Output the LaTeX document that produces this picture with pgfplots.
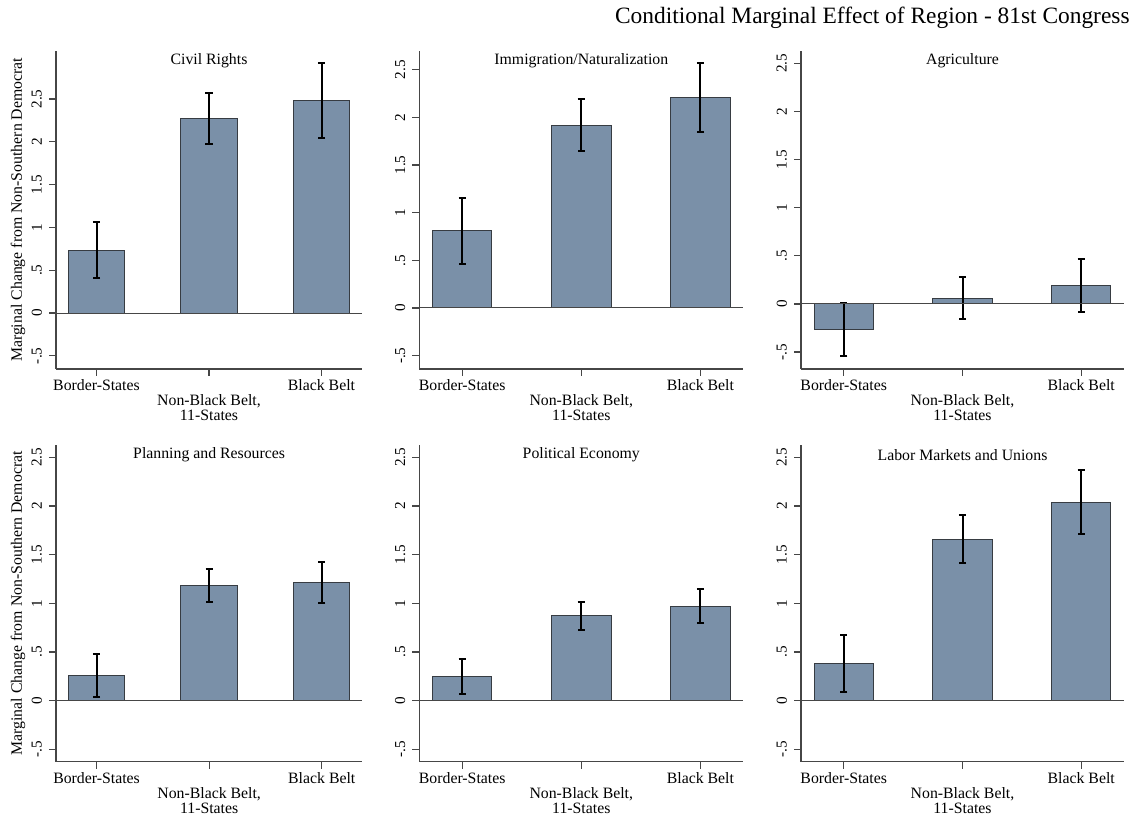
\documentclass[border=0pt]{standalone}
\usepackage{fontspec}
\setmainfont{Liberation Serif}
\usepackage{pgfplots}
\usepackage{pgfplotstable}
\pgfplotsset{compat=1.18}

\definecolor{barfill}{RGB}{122,144,168}
\definecolor{baredge}{RGB}{55,60,66}
\definecolor{axgray}{RGB}{70,70,70}

\newcommand{\midlab}{Non-Black Belt,\\11-States}

\pgfplotstableread{
x y lo hi
0 0.735 0.410 1.058
1 2.275 1.975 2.575
2 2.485 2.046 2.917
}\tabA
\pgfplotstableread{
x y lo hi
0 0.808 0.462 1.151
1 1.920 1.644 2.196
2 2.207 1.844 2.568
}\tabB
\pgfplotstableread{
x y lo hi
0 -0.263 -0.540 0.014
1 0.059 -0.159 0.284
2 0.187 -0.083 0.465
}\tabC
\pgfplotstableread{
x y lo hi
0 0.257 0.041 0.477
1 1.182 1.018 1.354
2 1.213 1.004 1.425
}\tabD
\pgfplotstableread{
x y lo hi
0 0.246 0.069 0.424
1 0.871 0.731 1.011
2 0.970 0.796 1.152
}\tabE
\pgfplotstableread{
x y lo hi
0 0.383 0.092 0.677
1 1.657 1.411 1.906
2 2.040 1.713 2.375
}\tabF

\pgfplotsset{
  panel/.style={
    scale only axis,
    anchor=south west,
    xmin=-0.36, xmax=2.36,
    axis x line*=bottom, axis y line*=left,
    axis line style={-, color=axgray, line width=0.6pt},
    tick style={color=axgray, line width=0.6pt},
    tick align=outside,
    major tick length=3.5pt,
    xtick={0,2},
    xticklabels={Border-States,Black Belt},
    extra x ticks={1},
    extra x tick labels={\midlab},
    extra x tick style={grid=none, xticklabel style={yshift=-7.6pt}},
    xticklabel style={font=\fontsize{7.9}{7.5}\selectfont, align=center, text=black, inner sep=1.5pt},
    ytick={-0.5,0,0.5,1,1.5,2,2.5},
    yticklabels={-.5,0,.5,1,1.5,2,2.5},
    yticklabel style={rotate=90, anchor=south, font=\fontsize{7.6}{8}\selectfont, text=black},
    every axis title/.style={at={(axis description cs:0.5,1)}, anchor=center, yshift=-5pt, font=\fontsize{7.9}{9}\selectfont},
    every axis y label/.style={at={(axis description cs:-0.124,0.5)}, rotate=90, anchor=center, font=\fontsize{7.9}{9}\selectfont},
  },
  bars/.style={
    ybar, bar width=0.5, fill=barfill, draw=baredge, line width=0.5pt,
    error bars/.cd, y dir=both, y explicit,
    error bar style={line width=1pt, black, solid},
    error mark options={line width=1pt, black, mark size=1.8pt, rotate=90},
  },
}

\newcommand{\panelplot}[1]{%
  \addplot[bars] table[x=x, y=y, y error plus expr=\thisrow{hi}-\thisrow{y}, y error minus expr=\thisrow{y}-\thisrow{lo}] {#1};
  \addplot[forget plot, color=axgray, line width=0.5pt] coordinates {(-0.36,0) (2.36,0)};
}

\begin{document}
\begin{tikzpicture}
\useasboundingbox (0,0) rectangle (567.5pt,409pt);

\node[anchor=east, inner sep=0pt, font=\fontsize{11.7}{14}\selectfont] at (565pt,399.85pt) {Conditional Marginal Effect of Region - 81st Congress};

% top row
\begin{axis}[panel, at={(28pt,224.5pt)}, width=153pt, height=159.15pt,
  ymin=-0.654, ymax=3.064, title={Civil Rights},
  ylabel={Marginal Change from Non-Southern Democrat}]
\panelplot{\tabA}
\end{axis}

\begin{axis}[panel, at={(209.65pt,224.5pt)}, width=162pt, height=159.15pt,
  ymin=-0.640, ymax=2.700, title={Immigration/Naturalization}]
\panelplot{\tabB}
\end{axis}

\begin{axis}[panel, at={(400.5pt,224.5pt)}, width=161.5pt, height=159.15pt,
  ymin=-0.676, ymax=2.633, title={Agriculture}]
\panelplot{\tabC}
\end{axis}

% bottom row
\begin{axis}[panel, at={(28pt,28.15pt)}, width=153.15pt, height=158.35pt,
  ymin=-0.627, ymax=2.628, title={Planning and Resources},
  ylabel={Marginal Change from Non-Southern Democrat}]
\panelplot{\tabD}
\end{axis}

\begin{axis}[panel, at={(209.65pt,28.15pt)}, width=162pt, height=158.35pt,
  ymin=-0.627, ymax=2.628, title={Political Economy}]
\panelplot{\tabE}
\end{axis}

\begin{axis}[panel, at={(400.5pt,28.15pt)}, width=161.5pt, height=158.35pt,
  ymin=-0.627, ymax=2.628, title={Labor Markets and Unions}]
\panelplot{\tabF}
\end{axis}
\end{tikzpicture}
\end{document}
